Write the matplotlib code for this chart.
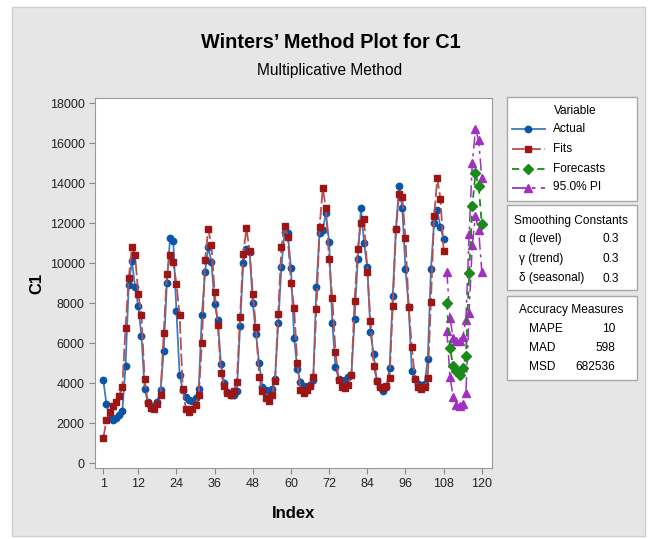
import matplotlib
matplotlib.use('Agg')
import matplotlib.pyplot as plt
from matplotlib.patches import Rectangle
from matplotlib.lines import Line2D

plt.rcParams['font.family'] = ['Liberation Sans', 'DejaVu Sans']

# data
actual = [4150, 2950, 2250, 2150, 2250, 2400, 2600, 4850, 8900, 10100, 8800, 7850,
          6350, 3700, 3050, 2800, 2850, 3050, 3650, 5600, 9000, 11250, 11100, 7600,
          4400, 3650, 3300, 3150, 3100, 3250, 3700, 7400, 9550, 10800, 10050, 7950,
          7150, 4950, 4000, 3550, 3400, 3400, 3600, 6850, 10000, 10700, 10550, 8000,
          6450, 5000, 3800, 3650, 3600, 3700, 4200, 7000, 9800, 11550, 11500, 9750,
          6250, 4700, 4050, 3850, 3800, 3900, 4150, 8800, 11500, 11650, 12500, 11050,
          7000, 4800, 4200, 4100, 4150, 4300, 4400, 7200, 10200, 12730, 10980, 9820,
          6530, 5430, 4100, 3800, 3620, 3800, 4730, 8370, 11700, 13850, 12730, 9700,
          7820, 4600, 4220, 3950, 3900, 3950, 5180, 9680, 12020, 12650, 11780, 11200]
fits = [1230, 2150, 2570, 2850, 3070, 3350, 3820, 6770, 9230, 10780, 10400, 8450,
        7380, 4180, 2980, 2730, 2700, 2950, 3400, 6480, 9450, 10400, 10070, 8950,
        7400, 3680, 2680, 2530, 2680, 2900, 3400, 5980, 10150, 11680, 10900, 8570,
        6900, 4520, 3850, 3480, 3400, 3620, 4050, 7280, 10450, 11730, 10620, 8450,
        6780, 4320, 3580, 3250, 3080, 3400, 4120, 7450, 10820, 11870, 11300, 9020,
        7730, 4980, 3650, 3520, 3650, 3830, 4280, 7680, 11820, 13730, 12730, 10180,
        8230, 5570, 4150, 3780, 3730, 3900, 4400, 8100, 10700, 11980, 12180, 9570,
        7120, 4870, 4120, 3820, 3730, 3850, 4230, 7850, 11680, 13450, 13280, 11230,
        7820, 5780, 4220, 3820, 3700, 3800, 4230, 8070, 12350, 14230, 13200, 10620]
forecasts = [8020, 5730, 4850, 4600, 4420, 4750, 5350, 9480, 12850, 14480, 13850, 11950]
pi_upper = [9570, 7230, 6250, 6080, 6080, 6300, 7150, 11430, 14980, 16680, 16150, 14230]
pi_lower = [6620, 4280, 3320, 2920, 2830, 2950, 3480, 7520, 10900, 12350, 11650, 9570]

index = list(range(1, len(actual) + 1))
fc_index = list(range(len(actual) + 1, len(actual) + 1 + len(forecasts)))

x_ticks = [1, 12, 24, 36, 48, 60, 72, 84, 96, 108, 120]
y_ticks = list(range(0, 18001, 2000))

smoothing = [('\u03b1 (level)', '0.3'), ('\u03b3 (trend)', '0.3'), ('\u03b4 (seasonal)', '0.3')]
accuracy = [('MAPE', '10'), ('MAD', '598'), ('MSD', '682536')]

BLUE_M, BLUE_L = '#0b55a8', '#3d7cc4'
RED_M, RED_L = '#9c1616', '#b85050'
GREEN = '#1a8a1a'
PURPLE = '#a030c0'

W, H = 655, 539
fig = plt.figure(figsize=(W / 100, H / 100), dpi=100)
fig.patch.set_facecolor('white')


def fx(px):
    return px / W


def fy(py):
    return 1 - py / H


def box(x0, y0, x1, y1, fc, ec, z):
    fig.patches.append(Rectangle((fx(x0), fy(y1)), (x1 - x0) / W, (y1 - y0) / H,
                                 transform=fig.transFigure, facecolor=fc,
                                 edgecolor=ec, lw=1, zorder=z))


box(12, 7, 645, 536, '#e6e6e6', '#cfcfcf', -2)

ax = fig.add_axes([fx(95), fy(468), (492 - 95) / W, (468 - 98) / H])
ax.plot(index, actual, color=BLUE_L, lw=1.3, marker='o', ms=4.6,
        mfc=BLUE_M, mec=BLUE_M, zorder=3)
ax.plot(index, fits, color=RED_L, lw=1.3, ls=(0, (7, 2)), marker='s', ms=4.4,
        mfc=RED_M, mec=RED_M, zorder=4)
ax.plot(fc_index, pi_upper, color=PURPLE, lw=1.1, ls=(0, (8, 3, 2, 3)), marker='^',
        ms=5.5, mfc=PURPLE, mec=PURPLE, zorder=3)
ax.plot(fc_index, pi_lower, color=PURPLE, lw=1.1, ls=(0, (8, 3, 2, 3)), marker='^',
        ms=5.5, mfc=PURPLE, mec=PURPLE, zorder=3)
ax.plot(fc_index, forecasts, color=GREEN, lw=1.3, ls=(0, (4, 3)), marker='D',
        ms=4.8, mfc=GREEN, mec=GREEN, zorder=5)

ax.set_xlim(-1.6, 123.2)
ax.set_ylim(-250, 18250)
ax.set_xticks(x_ticks)
ax.set_yticks(y_ticks)
ax.tick_params(labelsize=9, colors='#222222', length=4, color='#888888')
for s in ax.spines.values():
    s.set_color('#9a9a9a')
ax.set_xlabel('Index', fontsize=12, fontweight='bold', labelpad=11)
ax.set_ylabel('C1', fontsize=12, fontweight='bold', labelpad=4)

fig.text(fx(331), fy(42), "Winters\u2019 Method Plot for C1", ha='center', va='center',
         fontsize=14.3, fontweight='bold')
fig.text(fx(330), fy(71), 'Multiplicative Method', ha='center', va='center',
         fontsize=11.2)

# legend boxes
EC = '#a8a8a8'
box(507, 97, 637, 201, 'white', EC, -1)
box(507, 205, 637, 290, 'white', EC, -1)
box(507, 296, 637, 380, 'white', EC, -1)

fs = 8.6
fig.text(fx(575), fy(111.5), 'Variable', ha='center', va='center', fontsize=fs)
entries = [('Actual', BLUE_L, BLUE_M, '-', 'o', 4.6),
           ('Fits', RED_L, RED_M, (0, (7, 2)), 's', 4.4),
           ('Forecasts', GREEN, GREEN, (0, (4, 3)), 'D', 4.8),
           ('95.0% PI', PURPLE, PURPLE, (0, (8, 3, 2, 3)), '^', 5.5)]
for k, (name, lc, mc, ls, mk, ms) in enumerate(entries):
    yy = [129, 149, 169, 187.5][k]
    fig.add_artist(Line2D([fx(512), fx(545)], [fy(yy), fy(yy)], color=lc, lw=1.3, ls=ls,
                          transform=fig.transFigure))
    fig.add_artist(Line2D([fx(528)], [fy(yy)], marker=mk, ms=ms, mfc=mc, mec=mc,
                          transform=fig.transFigure))
    fig.text(fx(553), fy(yy), name, ha='left', va='center', fontsize=fs)

fig.text(fx(571), fy(221), 'Smoothing Constants', ha='center', va='center', fontsize=fs)
for k, (lab, val) in enumerate(smoothing):
    yy = [239, 259, 278.5][k]
    fig.text(fx(519), fy(yy), lab, ha='left', va='center', fontsize=fs)
    fig.text(fx(619), fy(yy), val, ha='right', va='center', fontsize=fs)

fig.text(fx(571), fy(310.5), 'Accuracy Measures', ha='center', va='center', fontsize=fs)
for k, (lab, val) in enumerate(accuracy):
    yy = [329, 348, 367][k]
    fig.text(fx(529), fy(yy), lab, ha='left', va='center', fontsize=fs)
    fig.text(fx(615), fy(yy), val, ha='right', va='center', fontsize=fs)

fig.savefig('out.png', dpi=100, facecolor=fig.get_facecolor())
